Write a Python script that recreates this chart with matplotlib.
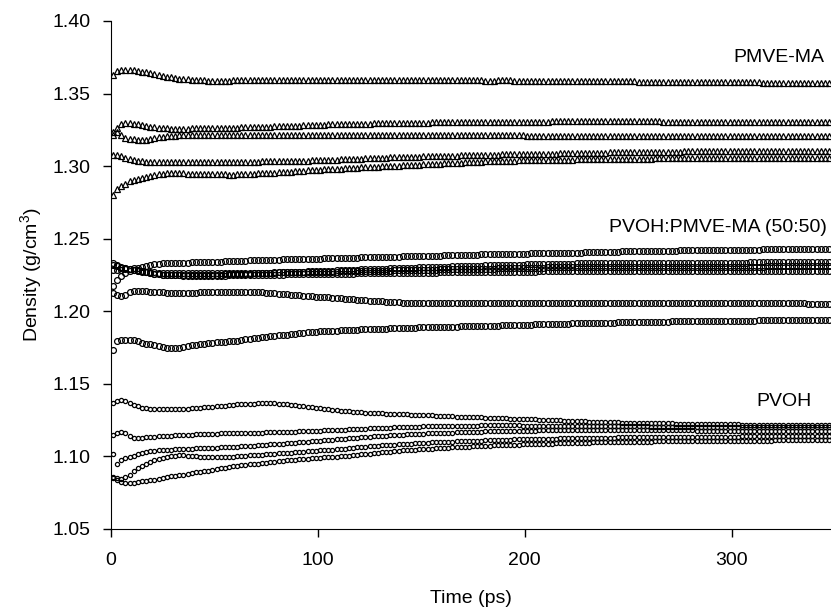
import matplotlib
matplotlib.use("Agg")
import matplotlib.pyplot as plt
import numpy as np

plt.rcParams["font.family"] = ["Liberation Sans", "DejaVu Sans"]
plt.rcParams["mathtext.default"] = "regular"

# sampling grid of the MD trajectories (ps)
time_ps = np.arange(1, 348, 2)

# --- PMVE-MA (triangles) ---
pmvema_1 = [
    1.3630, 1.3655, 1.3660, 1.3662, 1.3662, 1.3660, 1.3657, 1.3652, 1.3646, 1.3640,
    1.3633, 1.3627, 1.3621, 1.3616, 1.3611, 1.3607, 1.3603, 1.3600, 1.3598, 1.3596,
    1.3594, 1.3593, 1.3591, 1.3590, 1.3590, 1.3589, 1.3589, 1.3590, 1.3590, 1.3591,
    1.3591, 1.3592, 1.3592, 1.3592, 1.3593, 1.3593, 1.3592, 1.3592, 1.3592, 1.3591,
    1.3591, 1.3591, 1.3591, 1.3592, 1.3592, 1.3593, 1.3593, 1.3593, 1.3592, 1.3592,
    1.3592, 1.3591, 1.3591, 1.3591, 1.3592, 1.3592, 1.3593, 1.3593, 1.3593, 1.3593,
    1.3593, 1.3592, 1.3592, 1.3592, 1.3591, 1.3591, 1.3591, 1.3592, 1.3592, 1.3592,
    1.3593, 1.3593, 1.3593, 1.3593, 1.3592, 1.3592, 1.3592, 1.3592, 1.3591, 1.3591,
    1.3591, 1.3591, 1.3592, 1.3592, 1.3592, 1.3592, 1.3592, 1.3591, 1.3591, 1.3591,
    1.3590, 1.3590, 1.3590, 1.3591, 1.3591, 1.3591, 1.3591, 1.3590, 1.3590, 1.3590,
    1.3589, 1.3589, 1.3589, 1.3589, 1.3589, 1.3588, 1.3588, 1.3588, 1.3588, 1.3588,
    1.3587, 1.3587, 1.3587, 1.3587, 1.3586, 1.3586, 1.3586, 1.3586, 1.3585, 1.3585,
    1.3585, 1.3585, 1.3585, 1.3584, 1.3584, 1.3584, 1.3584, 1.3583, 1.3583, 1.3583,
    1.3583, 1.3582, 1.3582, 1.3582, 1.3582, 1.3581, 1.3581, 1.3581, 1.3581, 1.3580,
    1.3580, 1.3580, 1.3580, 1.3579, 1.3579, 1.3579, 1.3579, 1.3578, 1.3578, 1.3578,
    1.3578, 1.3578, 1.3577, 1.3577, 1.3577, 1.3577, 1.3577, 1.3576, 1.3576, 1.3576,
    1.3576, 1.3576, 1.3576, 1.3575, 1.3575, 1.3575, 1.3575, 1.3575, 1.3575, 1.3574,
    1.3574, 1.3574, 1.3574, 1.3574,
]
pmvema_2 = [
    1.3235, 1.3265, 1.3292, 1.3298, 1.3297, 1.3293, 1.3288, 1.3283, 1.3278, 1.3273,
    1.3268, 1.3265, 1.3262, 1.3260, 1.3259, 1.3258, 1.3258, 1.3259, 1.3259, 1.3260,
    1.3260, 1.3261, 1.3261, 1.3262, 1.3262, 1.3263, 1.3263, 1.3264, 1.3265, 1.3265,
    1.3266, 1.3267, 1.3268, 1.3268, 1.3269, 1.3270, 1.3271, 1.3272, 1.3273, 1.3274,
    1.3275, 1.3276, 1.3277, 1.3278, 1.3279, 1.3280, 1.3281, 1.3282, 1.3283, 1.3284,
    1.3285, 1.3286, 1.3287, 1.3287, 1.3288, 1.3289, 1.3289, 1.3290, 1.3291, 1.3291,
    1.3292, 1.3293, 1.3293, 1.3294, 1.3295, 1.3295, 1.3296, 1.3296, 1.3297, 1.3298,
    1.3298, 1.3298, 1.3299, 1.3299, 1.3300, 1.3300, 1.3300, 1.3301, 1.3301, 1.3301,
    1.3302, 1.3302, 1.3302, 1.3302, 1.3303, 1.3303, 1.3303, 1.3304, 1.3304, 1.3304,
    1.3305, 1.3305, 1.3305, 1.3305, 1.3305, 1.3306, 1.3306, 1.3306, 1.3306, 1.3306,
    1.3307, 1.3307, 1.3307, 1.3307, 1.3307, 1.3307, 1.3308, 1.3308, 1.3308, 1.3308,
    1.3308, 1.3308, 1.3308, 1.3308, 1.3308, 1.3308, 1.3308, 1.3308, 1.3308, 1.3308,
    1.3308, 1.3308, 1.3308, 1.3308, 1.3308, 1.3308, 1.3308, 1.3308, 1.3308, 1.3308,
    1.3308, 1.3308, 1.3308, 1.3307, 1.3307, 1.3307, 1.3307, 1.3307, 1.3307, 1.3307,
    1.3307, 1.3307, 1.3307, 1.3307, 1.3307, 1.3306, 1.3306, 1.3306, 1.3306, 1.3306,
    1.3306, 1.3306, 1.3306, 1.3306, 1.3306, 1.3306, 1.3306, 1.3305, 1.3305, 1.3305,
    1.3305, 1.3305, 1.3305, 1.3305, 1.3305, 1.3305, 1.3305, 1.3305, 1.3305, 1.3305,
    1.3305, 1.3305, 1.3305, 1.3305,
]
pmvema_3 = [
    1.3217, 1.3233, 1.3212, 1.3196, 1.3190, 1.3186, 1.3183, 1.3179, 1.3178, 1.3185,
    1.3193, 1.3198, 1.3202, 1.3205, 1.3208, 1.3210, 1.3212, 1.3213, 1.3214, 1.3215,
    1.3216, 1.3217, 1.3218, 1.3218, 1.3218, 1.3218, 1.3218, 1.3217, 1.3217, 1.3217,
    1.3217, 1.3216, 1.3216, 1.3216, 1.3216, 1.3217, 1.3217, 1.3217, 1.3218, 1.3218,
    1.3218, 1.3218, 1.3217, 1.3217, 1.3217, 1.3216, 1.3216, 1.3216, 1.3216, 1.3216,
    1.3216, 1.3216, 1.3217, 1.3217, 1.3217, 1.3217, 1.3216, 1.3216, 1.3216, 1.3216,
    1.3215, 1.3215, 1.3215, 1.3215, 1.3215, 1.3216, 1.3216, 1.3216, 1.3216, 1.3215,
    1.3215, 1.3215, 1.3215, 1.3214, 1.3214, 1.3214, 1.3214, 1.3214, 1.3214, 1.3213,
    1.3213, 1.3213, 1.3213, 1.3213, 1.3213, 1.3213, 1.3212, 1.3212, 1.3212, 1.3212,
    1.3212, 1.3212, 1.3212, 1.3212, 1.3212, 1.3212, 1.3212, 1.3212, 1.3212, 1.3212,
    1.3211, 1.3211, 1.3211, 1.3211, 1.3211, 1.3211, 1.3211, 1.3210, 1.3210, 1.3210,
    1.3210, 1.3210, 1.3210, 1.3210, 1.3210, 1.3209, 1.3209, 1.3209, 1.3209, 1.3209,
    1.3209, 1.3209, 1.3209, 1.3208, 1.3208, 1.3208, 1.3208, 1.3208, 1.3208, 1.3208,
    1.3208, 1.3208, 1.3207, 1.3207, 1.3207, 1.3207, 1.3207, 1.3207, 1.3207, 1.3207,
    1.3207, 1.3207, 1.3206, 1.3206, 1.3206, 1.3206, 1.3206, 1.3206, 1.3206, 1.3206,
    1.3206, 1.3206, 1.3206, 1.3206, 1.3205, 1.3205, 1.3205, 1.3205, 1.3205, 1.3205,
    1.3205, 1.3205, 1.3205, 1.3205, 1.3205, 1.3205, 1.3205, 1.3205, 1.3205, 1.3205,
    1.3205, 1.3205, 1.3205, 1.3205,
]
pmvema_4 = [
    1.3079, 1.3075, 1.3068, 1.3058, 1.3048, 1.3040, 1.3037, 1.3033, 1.3031, 1.3030,
    1.3030, 1.3029, 1.3029, 1.3029, 1.3029, 1.3029, 1.3029, 1.3029, 1.3029, 1.3029,
    1.3029, 1.3030, 1.3030, 1.3030, 1.3030, 1.3030, 1.3030, 1.3030, 1.3030, 1.3030,
    1.3031, 1.3031, 1.3031, 1.3031, 1.3031, 1.3031, 1.3032, 1.3032, 1.3032, 1.3032,
    1.3032, 1.3033, 1.3034, 1.3035, 1.3036, 1.3036, 1.3037, 1.3038, 1.3039, 1.3040,
    1.3041, 1.3042, 1.3043, 1.3044, 1.3045, 1.3047, 1.3048, 1.3049, 1.3050, 1.3051,
    1.3052, 1.3053, 1.3054, 1.3055, 1.3057, 1.3058, 1.3059, 1.3060, 1.3061, 1.3062,
    1.3063, 1.3064, 1.3065, 1.3065, 1.3066, 1.3067, 1.3068, 1.3068, 1.3069, 1.3070,
    1.3071, 1.3071, 1.3072, 1.3073, 1.3074, 1.3074, 1.3075, 1.3076, 1.3077, 1.3077,
    1.3078, 1.3079, 1.3080, 1.3080, 1.3081, 1.3081, 1.3082, 1.3082, 1.3083, 1.3083,
    1.3084, 1.3084, 1.3085, 1.3085, 1.3086, 1.3086, 1.3087, 1.3087, 1.3088, 1.3088,
    1.3089, 1.3089, 1.3090, 1.3090, 1.3091, 1.3091, 1.3092, 1.3092, 1.3093, 1.3093,
    1.3094, 1.3094, 1.3094, 1.3095, 1.3095, 1.3096, 1.3096, 1.3097, 1.3097, 1.3097,
    1.3098, 1.3098, 1.3099, 1.3099, 1.3099, 1.3100, 1.3100, 1.3100, 1.3101, 1.3101,
    1.3101, 1.3102, 1.3102, 1.3102, 1.3102, 1.3103, 1.3103, 1.3103, 1.3103, 1.3103,
    1.3104, 1.3104, 1.3104, 1.3104, 1.3104, 1.3105, 1.3105, 1.3105, 1.3105, 1.3105,
    1.3105, 1.3106, 1.3106, 1.3106, 1.3106, 1.3106, 1.3106, 1.3106, 1.3107, 1.3107,
    1.3107, 1.3107, 1.3107, 1.3107,
]
pmvema_5 = [
    1.2803, 1.2840, 1.2862, 1.2880, 1.2895, 1.2907, 1.2914, 1.2920, 1.2925, 1.2930,
    1.2938, 1.2945, 1.2949, 1.2953, 1.2953, 1.2952, 1.2951, 1.2950, 1.2949, 1.2948,
    1.2947, 1.2946, 1.2945, 1.2945, 1.2944, 1.2944, 1.2943, 1.2943, 1.2942, 1.2942,
    1.2944, 1.2945, 1.2946, 1.2948, 1.2949, 1.2950, 1.2952, 1.2953, 1.2955, 1.2956,
    1.2958, 1.2959, 1.2961, 1.2962, 1.2964, 1.2966, 1.2968, 1.2970, 1.2972, 1.2974,
    1.2976, 1.2977, 1.2979, 1.2980, 1.2982, 1.2983, 1.2985, 1.2986, 1.2988, 1.2989,
    1.2991, 1.2992, 1.2994, 1.2995, 1.2997, 1.2998, 1.3000, 1.3001, 1.3003, 1.3004,
    1.3006, 1.3007, 1.3008, 1.3010, 1.3011, 1.3012, 1.3014, 1.3015, 1.3016, 1.3018,
    1.3019, 1.3020, 1.3022, 1.3023, 1.3024, 1.3026, 1.3027, 1.3028, 1.3030, 1.3031,
    1.3032, 1.3034, 1.3035, 1.3036, 1.3036, 1.3037, 1.3038, 1.3038, 1.3039, 1.3039,
    1.3040, 1.3040, 1.3041, 1.3041, 1.3042, 1.3042, 1.3043, 1.3043, 1.3044, 1.3044,
    1.3045, 1.3045, 1.3046, 1.3046, 1.3047, 1.3047, 1.3048, 1.3048, 1.3049, 1.3049,
    1.3049, 1.3050, 1.3050, 1.3050, 1.3051, 1.3051, 1.3051, 1.3052, 1.3052, 1.3052,
    1.3052, 1.3053, 1.3053, 1.3053, 1.3053, 1.3054, 1.3054, 1.3054, 1.3054, 1.3054,
    1.3055, 1.3055, 1.3055, 1.3055, 1.3055, 1.3055, 1.3055, 1.3055, 1.3055, 1.3055,
    1.3056, 1.3056, 1.3056, 1.3056, 1.3056, 1.3056, 1.3056, 1.3057, 1.3057, 1.3057,
    1.3057, 1.3057, 1.3057, 1.3057, 1.3057, 1.3058, 1.3058, 1.3058, 1.3058, 1.3058,
    1.3058, 1.3058, 1.3058, 1.3058,
]

# --- PVOH:PMVE-MA (50:50) blend (large circles) ---
blend_1 = [
    1.2320, 1.2310, 1.2300, 1.2295, 1.2292, 1.2295, 1.2300, 1.2308, 1.2315, 1.2322,
    1.2326, 1.2328, 1.2330, 1.2331, 1.2332, 1.2333, 1.2334, 1.2335, 1.2336, 1.2337,
    1.2338, 1.2338, 1.2339, 1.2340, 1.2341, 1.2342, 1.2343, 1.2344, 1.2345, 1.2346,
    1.2347, 1.2348, 1.2349, 1.2350, 1.2350, 1.2351, 1.2352, 1.2353, 1.2354, 1.2355,
    1.2356, 1.2357, 1.2357, 1.2358, 1.2359, 1.2360, 1.2360, 1.2361, 1.2362, 1.2363,
    1.2363, 1.2364, 1.2365, 1.2366, 1.2366, 1.2367, 1.2368, 1.2368, 1.2369, 1.2370,
    1.2371, 1.2371, 1.2372, 1.2373, 1.2374, 1.2374, 1.2375, 1.2376, 1.2377, 1.2377,
    1.2378, 1.2379, 1.2379, 1.2380, 1.2381, 1.2382, 1.2382, 1.2383, 1.2384, 1.2384,
    1.2385, 1.2386, 1.2386, 1.2387, 1.2388, 1.2389, 1.2389, 1.2390, 1.2391, 1.2392,
    1.2392, 1.2393, 1.2394, 1.2395, 1.2395, 1.2396, 1.2396, 1.2397, 1.2397, 1.2398,
    1.2398, 1.2399, 1.2399, 1.2400, 1.2400, 1.2401, 1.2401, 1.2402, 1.2402, 1.2403,
    1.2403, 1.2404, 1.2405, 1.2405, 1.2406, 1.2407, 1.2407, 1.2408, 1.2409, 1.2409,
    1.2410, 1.2410, 1.2411, 1.2412, 1.2412, 1.2413, 1.2413, 1.2414, 1.2414, 1.2415,
    1.2415, 1.2416, 1.2416, 1.2417, 1.2417, 1.2418, 1.2418, 1.2419, 1.2419, 1.2419,
    1.2420, 1.2420, 1.2421, 1.2421, 1.2421, 1.2422, 1.2422, 1.2422, 1.2423, 1.2423,
    1.2423, 1.2424, 1.2424, 1.2424, 1.2425, 1.2425, 1.2425, 1.2426, 1.2426, 1.2427,
    1.2427, 1.2427, 1.2428, 1.2428, 1.2429, 1.2429, 1.2429, 1.2430, 1.2430, 1.2431,
    1.2431, 1.2431, 1.2432, 1.2432,
]
blend_2 = [
    1.2330, 1.2318, 1.2305, 1.2298, 1.2292, 1.2287, 1.2282, 1.2275, 1.2268, 1.2262,
    1.2258, 1.2255, 1.2253, 1.2251, 1.2250, 1.2249, 1.2248, 1.2248, 1.2248, 1.2249,
    1.2249, 1.2250, 1.2250, 1.2251, 1.2251, 1.2252, 1.2253, 1.2254, 1.2255, 1.2256,
    1.2257, 1.2258, 1.2259, 1.2260, 1.2261, 1.2262, 1.2263, 1.2265, 1.2266, 1.2267,
    1.2268, 1.2269, 1.2270, 1.2271, 1.2272, 1.2273, 1.2274, 1.2275, 1.2276, 1.2277,
    1.2278, 1.2279, 1.2280, 1.2281, 1.2282, 1.2283, 1.2284, 1.2285, 1.2286, 1.2287,
    1.2288, 1.2289, 1.2290, 1.2291, 1.2292, 1.2293, 1.2294, 1.2295, 1.2296, 1.2297,
    1.2298, 1.2299, 1.2300, 1.2301, 1.2302, 1.2303, 1.2303, 1.2304, 1.2305, 1.2306,
    1.2307, 1.2308, 1.2309, 1.2310, 1.2311, 1.2312, 1.2312, 1.2313, 1.2314, 1.2315,
    1.2316, 1.2317, 1.2318, 1.2318, 1.2319, 1.2320, 1.2320, 1.2321, 1.2322, 1.2322,
    1.2323, 1.2324, 1.2324, 1.2325, 1.2326, 1.2326, 1.2327, 1.2327, 1.2328, 1.2328,
    1.2329, 1.2329, 1.2330, 1.2330, 1.2330, 1.2331, 1.2331, 1.2331, 1.2332, 1.2332,
    1.2332, 1.2333, 1.2333, 1.2333, 1.2333, 1.2334, 1.2334, 1.2334, 1.2334, 1.2334,
    1.2334, 1.2334, 1.2335, 1.2335, 1.2335, 1.2335, 1.2335, 1.2335, 1.2335, 1.2335,
    1.2335, 1.2336, 1.2336, 1.2336, 1.2336, 1.2336, 1.2336, 1.2336, 1.2336, 1.2336,
    1.2336, 1.2336, 1.2336, 1.2336, 1.2337, 1.2337, 1.2337, 1.2337, 1.2337, 1.2337,
    1.2337, 1.2337, 1.2337, 1.2337, 1.2337, 1.2337, 1.2337, 1.2337, 1.2337, 1.2337,
    1.2337, 1.2337, 1.2337, 1.2337,
]
blend_3 = [
    1.2285, 1.2282, 1.2285, 1.2290, 1.2288, 1.2283, 1.2280, 1.2276, 1.2273, 1.2270,
    1.2268, 1.2267, 1.2265, 1.2264, 1.2264, 1.2263, 1.2263, 1.2262, 1.2262, 1.2262,
    1.2262, 1.2262, 1.2262, 1.2262, 1.2262, 1.2262, 1.2262, 1.2262, 1.2262, 1.2263,
    1.2263, 1.2264, 1.2264, 1.2265, 1.2265, 1.2266, 1.2266, 1.2267, 1.2267, 1.2268,
    1.2268, 1.2268, 1.2269, 1.2269, 1.2270, 1.2270, 1.2270, 1.2271, 1.2271, 1.2272,
    1.2272, 1.2273, 1.2273, 1.2274, 1.2274, 1.2275, 1.2275, 1.2276, 1.2276, 1.2277,
    1.2277, 1.2278, 1.2278, 1.2279, 1.2279, 1.2280, 1.2281, 1.2281, 1.2282, 1.2282,
    1.2283, 1.2284, 1.2284, 1.2285, 1.2285, 1.2286, 1.2286, 1.2287, 1.2287, 1.2288,
    1.2288, 1.2289, 1.2289, 1.2290, 1.2290, 1.2291, 1.2291, 1.2292, 1.2292, 1.2293,
    1.2293, 1.2294, 1.2294, 1.2295, 1.2296, 1.2296, 1.2297, 1.2298, 1.2298, 1.2299,
    1.2299, 1.2300, 1.2300, 1.2301, 1.2301, 1.2302, 1.2302, 1.2302, 1.2303, 1.2303,
    1.2303, 1.2303, 1.2304, 1.2304, 1.2304, 1.2304, 1.2304, 1.2305, 1.2305, 1.2305,
    1.2305, 1.2305, 1.2305, 1.2305, 1.2306, 1.2306, 1.2306, 1.2306, 1.2306, 1.2306,
    1.2306, 1.2306, 1.2306, 1.2306, 1.2307, 1.2307, 1.2307, 1.2307, 1.2307, 1.2307,
    1.2307, 1.2307, 1.2307, 1.2307, 1.2307, 1.2308, 1.2308, 1.2308, 1.2308, 1.2308,
    1.2308, 1.2308, 1.2308, 1.2308, 1.2308, 1.2308, 1.2308, 1.2308, 1.2309, 1.2309,
    1.2309, 1.2309, 1.2309, 1.2309, 1.2309, 1.2309, 1.2309, 1.2309, 1.2309, 1.2309,
    1.2309, 1.2309, 1.2309, 1.2309,
]
blend_4 = [
    1.2172, 1.2215, 1.2245, 1.2265, 1.2280, 1.2285, 1.2280, 1.2274, 1.2268, 1.2263,
    1.2258, 1.2255, 1.2252, 1.2250, 1.2249, 1.2248, 1.2247, 1.2246, 1.2246, 1.2246,
    1.2245, 1.2245, 1.2245, 1.2245, 1.2245, 1.2246, 1.2246, 1.2246, 1.2247, 1.2247,
    1.2248, 1.2248, 1.2249, 1.2249, 1.2250, 1.2250, 1.2251, 1.2251, 1.2252, 1.2252,
    1.2253, 1.2253, 1.2254, 1.2254, 1.2255, 1.2255, 1.2256, 1.2256, 1.2257, 1.2257,
    1.2258, 1.2258, 1.2258, 1.2259, 1.2259, 1.2259, 1.2260, 1.2260, 1.2260, 1.2261,
    1.2261, 1.2261, 1.2262, 1.2262, 1.2262, 1.2263, 1.2263, 1.2264, 1.2264, 1.2264,
    1.2265, 1.2265, 1.2265, 1.2266, 1.2266, 1.2266, 1.2267, 1.2267, 1.2267, 1.2268,
    1.2268, 1.2268, 1.2269, 1.2269, 1.2269, 1.2270, 1.2270, 1.2270, 1.2271, 1.2271,
    1.2271, 1.2272, 1.2272, 1.2272, 1.2272, 1.2273, 1.2273, 1.2273, 1.2273, 1.2274,
    1.2274, 1.2274, 1.2274, 1.2275, 1.2275, 1.2275, 1.2275, 1.2275, 1.2276, 1.2276,
    1.2276, 1.2276, 1.2276, 1.2276, 1.2277, 1.2277, 1.2277, 1.2277, 1.2277, 1.2277,
    1.2277, 1.2278, 1.2278, 1.2278, 1.2278, 1.2278, 1.2278, 1.2278, 1.2278, 1.2278,
    1.2278, 1.2279, 1.2279, 1.2279, 1.2279, 1.2279, 1.2279, 1.2279, 1.2279, 1.2279,
    1.2279, 1.2280, 1.2280, 1.2280, 1.2280, 1.2280, 1.2280, 1.2280, 1.2280, 1.2280,
    1.2280, 1.2280, 1.2280, 1.2280, 1.2281, 1.2281, 1.2281, 1.2281, 1.2281, 1.2281,
    1.2281, 1.2281, 1.2281, 1.2281, 1.2281, 1.2281, 1.2281, 1.2281, 1.2281, 1.2281,
    1.2281, 1.2281, 1.2281, 1.2281,
]
blend_5 = [
    1.2126, 1.2115, 1.2103, 1.2110, 1.2135, 1.2143, 1.2143, 1.2140, 1.2138, 1.2135,
    1.2133, 1.2132, 1.2130, 1.2129, 1.2129, 1.2128, 1.2128, 1.2128, 1.2128, 1.2129,
    1.2129, 1.2130, 1.2130, 1.2131, 1.2132, 1.2133, 1.2133, 1.2134, 1.2135, 1.2135,
    1.2135, 1.2135, 1.2135, 1.2134, 1.2133, 1.2132, 1.2130, 1.2129, 1.2127, 1.2125,
    1.2122, 1.2120, 1.2117, 1.2115, 1.2112, 1.2110, 1.2108, 1.2106, 1.2103, 1.2101,
    1.2099, 1.2097, 1.2095, 1.2093, 1.2091, 1.2089, 1.2086, 1.2084, 1.2082, 1.2080,
    1.2077, 1.2075, 1.2073, 1.2071, 1.2069, 1.2068, 1.2066, 1.2064, 1.2063, 1.2061,
    1.2060, 1.2059, 1.2059, 1.2058, 1.2058, 1.2057, 1.2057, 1.2056, 1.2056, 1.2055,
    1.2055, 1.2055, 1.2055, 1.2054, 1.2054, 1.2054, 1.2054, 1.2054, 1.2055, 1.2055,
    1.2055, 1.2055, 1.2056, 1.2056, 1.2056, 1.2056, 1.2056, 1.2056, 1.2056, 1.2056,
    1.2056, 1.2056, 1.2056, 1.2056, 1.2055, 1.2055, 1.2055, 1.2055, 1.2055, 1.2055,
    1.2055, 1.2055, 1.2054, 1.2054, 1.2054, 1.2054, 1.2054, 1.2054, 1.2054, 1.2054,
    1.2054, 1.2054, 1.2054, 1.2055, 1.2055, 1.2055, 1.2055, 1.2055, 1.2055, 1.2055,
    1.2056, 1.2056, 1.2056, 1.2056, 1.2056, 1.2056, 1.2056, 1.2056, 1.2056, 1.2056,
    1.2055, 1.2055, 1.2055, 1.2055, 1.2055, 1.2055, 1.2055, 1.2055, 1.2054, 1.2054,
    1.2054, 1.2054, 1.2054, 1.2054, 1.2054, 1.2054, 1.2054, 1.2054, 1.2054, 1.2054,
    1.2054, 1.2054, 1.2054, 1.2054, 1.2054, 1.2054, 1.2054, 1.2054, 1.2053, 1.2053,
    1.2053, 1.2053, 1.2053, 1.2053,
]
blend_6 = [
    1.1735, 1.1795, 1.1800, 1.1803, 1.1803, 1.1800, 1.1792, 1.1783, 1.1778, 1.1772,
    1.1766, 1.1760, 1.1755, 1.1750, 1.1747, 1.1748, 1.1750, 1.1755, 1.1760, 1.1765,
    1.1770, 1.1775, 1.1778, 1.1781, 1.1783, 1.1786, 1.1788, 1.1790, 1.1792, 1.1795,
    1.1798, 1.1802, 1.1806, 1.1810, 1.1813, 1.1817, 1.1821, 1.1825, 1.1828, 1.1831,
    1.1834, 1.1837, 1.1840, 1.1843, 1.1846, 1.1849, 1.1852, 1.1855, 1.1857, 1.1860,
    1.1861, 1.1863, 1.1864, 1.1865, 1.1867, 1.1868, 1.1869, 1.1871, 1.1872, 1.1873,
    1.1875, 1.1876, 1.1877, 1.1878, 1.1879, 1.1880, 1.1881, 1.1882, 1.1883, 1.1884,
    1.1885, 1.1886, 1.1887, 1.1888, 1.1889, 1.1890, 1.1890, 1.1891, 1.1892, 1.1893,
    1.1893, 1.1894, 1.1895, 1.1895, 1.1896, 1.1897, 1.1897, 1.1898, 1.1899, 1.1899,
    1.1900, 1.1901, 1.1902, 1.1902, 1.1903, 1.1904, 1.1905, 1.1905, 1.1906, 1.1907,
    1.1908, 1.1908, 1.1909, 1.1910, 1.1911, 1.1911, 1.1912, 1.1913, 1.1914, 1.1914,
    1.1915, 1.1916, 1.1916, 1.1917, 1.1918, 1.1918, 1.1919, 1.1920, 1.1920, 1.1921,
    1.1922, 1.1922, 1.1923, 1.1924, 1.1924, 1.1925, 1.1925, 1.1926, 1.1926, 1.1927,
    1.1927, 1.1928, 1.1928, 1.1929, 1.1929, 1.1930, 1.1930, 1.1931, 1.1931, 1.1932,
    1.1932, 1.1932, 1.1933, 1.1933, 1.1933, 1.1934, 1.1934, 1.1934, 1.1935, 1.1935,
    1.1935, 1.1935, 1.1936, 1.1936, 1.1936, 1.1936, 1.1937, 1.1937, 1.1937, 1.1937,
    1.1938, 1.1938, 1.1938, 1.1938, 1.1939, 1.1939, 1.1939, 1.1939, 1.1939, 1.1940,
    1.1940, 1.1940, 1.1940, 1.1940,
]

# --- PVOH (small circles) ---
pvoh_1 = [
    1.1367, 1.1382, 1.1390, 1.1385, 1.1370, 1.1355, 1.1345, 1.1335, 1.1332, 1.1330,
    1.1329, 1.1327, 1.1326, 1.1326, 1.1325, 1.1326, 1.1327, 1.1328, 1.1330, 1.1332,
    1.1334, 1.1336, 1.1338, 1.1340, 1.1342, 1.1345, 1.1347, 1.1350, 1.1352, 1.1355,
    1.1358, 1.1360, 1.1362, 1.1363, 1.1364, 1.1365, 1.1365, 1.1366, 1.1366, 1.1365,
    1.1364, 1.1362, 1.1359, 1.1356, 1.1353, 1.1350, 1.1346, 1.1342, 1.1338, 1.1335,
    1.1331, 1.1327, 1.1324, 1.1320, 1.1317, 1.1315, 1.1312, 1.1310, 1.1308, 1.1306,
    1.1304, 1.1302, 1.1300, 1.1299, 1.1298, 1.1297, 1.1295, 1.1294, 1.1293, 1.1291,
    1.1290, 1.1289, 1.1288, 1.1287, 1.1285, 1.1284, 1.1283, 1.1282, 1.1281, 1.1279,
    1.1278, 1.1277, 1.1276, 1.1275, 1.1274, 1.1273, 1.1272, 1.1271, 1.1270, 1.1269,
    1.1267, 1.1266, 1.1265, 1.1264, 1.1263, 1.1262, 1.1261, 1.1260, 1.1259, 1.1258,
    1.1257, 1.1256, 1.1255, 1.1254, 1.1253, 1.1252, 1.1251, 1.1250, 1.1248, 1.1247,
    1.1246, 1.1245, 1.1244, 1.1243, 1.1242, 1.1240, 1.1239, 1.1238, 1.1237, 1.1236,
    1.1235, 1.1235, 1.1234, 1.1233, 1.1232, 1.1232, 1.1231, 1.1231, 1.1230, 1.1230,
    1.1229, 1.1229, 1.1228, 1.1228, 1.1227, 1.1227, 1.1226, 1.1226, 1.1226, 1.1225,
    1.1225, 1.1224, 1.1224, 1.1223, 1.1223, 1.1222, 1.1222, 1.1221, 1.1221, 1.1220,
    1.1220, 1.1220, 1.1219, 1.1219, 1.1219, 1.1219, 1.1218, 1.1218, 1.1218, 1.1218,
    1.1218, 1.1217, 1.1217, 1.1217, 1.1217, 1.1216, 1.1216, 1.1216, 1.1216, 1.1215,
    1.1215, 1.1215, 1.1215, 1.1215,
]
pvoh_2 = [
    1.1148, 1.1162, 1.1165, 1.1160, 1.1140, 1.1128, 1.1127, 1.1129, 1.1132, 1.1135,
    1.1137, 1.1139, 1.1140, 1.1142, 1.1143, 1.1145, 1.1146, 1.1147, 1.1149, 1.1150,
    1.1152, 1.1154, 1.1155, 1.1156, 1.1157, 1.1157, 1.1158, 1.1158, 1.1159, 1.1159,
    1.1160, 1.1160, 1.1161, 1.1161, 1.1162, 1.1163, 1.1164, 1.1165, 1.1166, 1.1167,
    1.1167, 1.1168, 1.1169, 1.1170, 1.1171, 1.1172, 1.1173, 1.1174, 1.1175, 1.1176,
    1.1178, 1.1179, 1.1180, 1.1181, 1.1182, 1.1184, 1.1185, 1.1186, 1.1187, 1.1188,
    1.1190, 1.1191, 1.1193, 1.1194, 1.1196, 1.1197, 1.1198, 1.1199, 1.1201, 1.1202,
    1.1203, 1.1204, 1.1204, 1.1205, 1.1206, 1.1207, 1.1207, 1.1208, 1.1209, 1.1209,
    1.1210, 1.1210, 1.1211, 1.1211, 1.1212, 1.1212, 1.1213, 1.1213, 1.1213, 1.1214,
    1.1214, 1.1214, 1.1215, 1.1215, 1.1215, 1.1215, 1.1214, 1.1214, 1.1214, 1.1213,
    1.1213, 1.1213, 1.1212, 1.1212, 1.1212, 1.1211, 1.1211, 1.1211, 1.1211, 1.1210,
    1.1210, 1.1210, 1.1210, 1.1210, 1.1209, 1.1209, 1.1209, 1.1209, 1.1209, 1.1208,
    1.1208, 1.1208, 1.1208, 1.1208, 1.1208, 1.1207, 1.1207, 1.1207, 1.1207, 1.1207,
    1.1206, 1.1206, 1.1206, 1.1206, 1.1206, 1.1205, 1.1205, 1.1205, 1.1205, 1.1204,
    1.1204, 1.1204, 1.1204, 1.1204, 1.1203, 1.1203, 1.1203, 1.1203, 1.1203, 1.1203,
    1.1203, 1.1202, 1.1202, 1.1202, 1.1202, 1.1202, 1.1202, 1.1201, 1.1201, 1.1201,
    1.1201, 1.1201, 1.1201, 1.1201, 1.1200, 1.1200, 1.1200, 1.1200, 1.1200, 1.1200,
    1.1200, 1.1200, 1.1200, 1.1200,
]
pvoh_3 = [
    1.1015, 1.0950, 1.0975, 1.0988, 1.0995, 1.1005, 1.1020, 1.1026, 1.1032, 1.1036,
    1.1040, 1.1042, 1.1044, 1.1046, 1.1047, 1.1049, 1.1050, 1.1052, 1.1053, 1.1054,
    1.1055, 1.1057, 1.1058, 1.1059, 1.1060, 1.1061, 1.1062, 1.1064, 1.1065, 1.1066,
    1.1068, 1.1070, 1.1071, 1.1073, 1.1075, 1.1077, 1.1079, 1.1081, 1.1083, 1.1085,
    1.1087, 1.1089, 1.1091, 1.1093, 1.1095, 1.1097, 1.1099, 1.1101, 1.1104, 1.1106,
    1.1108, 1.1111, 1.1113, 1.1116, 1.1118, 1.1121, 1.1123, 1.1126, 1.1128, 1.1130,
    1.1132, 1.1134, 1.1136, 1.1138, 1.1140, 1.1142, 1.1143, 1.1145, 1.1147, 1.1149,
    1.1150, 1.1152, 1.1153, 1.1154, 1.1155, 1.1156, 1.1158, 1.1159, 1.1160, 1.1161,
    1.1162, 1.1163, 1.1164, 1.1165, 1.1166, 1.1167, 1.1168, 1.1169, 1.1170, 1.1171,
    1.1172, 1.1173, 1.1174, 1.1175, 1.1175, 1.1176, 1.1176, 1.1177, 1.1177, 1.1177,
    1.1178, 1.1178, 1.1178, 1.1179, 1.1179, 1.1179, 1.1179, 1.1180, 1.1180, 1.1180,
    1.1180, 1.1180, 1.1180, 1.1180, 1.1180, 1.1180, 1.1180, 1.1180, 1.1180, 1.1180,
    1.1180, 1.1180, 1.1180, 1.1180, 1.1180, 1.1180, 1.1180, 1.1180, 1.1180, 1.1180,
    1.1180, 1.1180, 1.1180, 1.1179, 1.1179, 1.1179, 1.1179, 1.1179, 1.1179, 1.1179,
    1.1179, 1.1178, 1.1178, 1.1178, 1.1178, 1.1178, 1.1178, 1.1178, 1.1178, 1.1178,
    1.1178, 1.1177, 1.1177, 1.1177, 1.1177, 1.1177, 1.1177, 1.1176, 1.1176, 1.1176,
    1.1176, 1.1176, 1.1176, 1.1176, 1.1176, 1.1175, 1.1175, 1.1175, 1.1175, 1.1175,
    1.1175, 1.1175, 1.1175, 1.1175,
]
pvoh_4 = [
    1.0860, 1.0848, 1.0843, 1.0855, 1.0875, 1.0900, 1.0918, 1.0935, 1.0950, 1.0965,
    1.0974, 1.0982, 1.0989, 1.0995, 1.1000, 1.1005, 1.1007, 1.1008, 1.1006, 1.1003,
    1.1001, 1.0999, 1.0997, 1.0997, 1.0996, 1.0996, 1.0997, 1.0997, 1.0998, 1.0999,
    1.1002, 1.1004, 1.1005, 1.1007, 1.1009, 1.1011, 1.1013, 1.1015, 1.1017, 1.1019,
    1.1021, 1.1023, 1.1025, 1.1027, 1.1029, 1.1031, 1.1033, 1.1035, 1.1037, 1.1039,
    1.1041, 1.1043, 1.1045, 1.1047, 1.1049, 1.1051, 1.1054, 1.1057, 1.1059, 1.1062,
    1.1065, 1.1067, 1.1070, 1.1072, 1.1074, 1.1076, 1.1078, 1.1080, 1.1082, 1.1085,
    1.1086, 1.1088, 1.1089, 1.1091, 1.1092, 1.1093, 1.1095, 1.1096, 1.1097, 1.1099,
    1.1100, 1.1101, 1.1102, 1.1103, 1.1104, 1.1105, 1.1106, 1.1107, 1.1108, 1.1109,
    1.1111, 1.1112, 1.1113, 1.1114, 1.1115, 1.1115, 1.1116, 1.1117, 1.1117, 1.1118,
    1.1119, 1.1119, 1.1120, 1.1121, 1.1121, 1.1122, 1.1123, 1.1123, 1.1124, 1.1124,
    1.1125, 1.1125, 1.1126, 1.1126, 1.1127, 1.1127, 1.1128, 1.1128, 1.1129, 1.1129,
    1.1130, 1.1130, 1.1131, 1.1131, 1.1132, 1.1132, 1.1132, 1.1133, 1.1133, 1.1133,
    1.1134, 1.1134, 1.1134, 1.1134, 1.1135, 1.1135, 1.1135, 1.1135, 1.1136, 1.1136,
    1.1136, 1.1136, 1.1136, 1.1136, 1.1137, 1.1137, 1.1137, 1.1137, 1.1137, 1.1137,
    1.1137, 1.1137, 1.1138, 1.1138, 1.1138, 1.1138, 1.1138, 1.1138, 1.1138, 1.1139,
    1.1139, 1.1139, 1.1139, 1.1139, 1.1139, 1.1139, 1.1139, 1.1140, 1.1140, 1.1140,
    1.1140, 1.1140, 1.1140, 1.1140,
]
pvoh_5 = [
    1.0853, 1.0835, 1.0826, 1.0820, 1.0815, 1.0818, 1.0824, 1.0828, 1.0832, 1.0836,
    1.0840, 1.0845, 1.0850, 1.0856, 1.0862, 1.0866, 1.0871, 1.0875, 1.0880, 1.0885,
    1.0890, 1.0894, 1.0899, 1.0903, 1.0908, 1.0913, 1.0918, 1.0922, 1.0927, 1.0931,
    1.0934, 1.0938, 1.0941, 1.0945, 1.0948, 1.0951, 1.0954, 1.0957, 1.0960, 1.0963,
    1.0966, 1.0969, 1.0972, 1.0974, 1.0977, 1.0980, 1.0982, 1.0984, 1.0986, 1.0989,
    1.0991, 1.0993, 1.0995, 1.0997, 1.0999, 1.1001, 1.1003, 1.1005, 1.1008, 1.1011,
    1.1014, 1.1017, 1.1020, 1.1023, 1.1025, 1.1028, 1.1031, 1.1033, 1.1036, 1.1039,
    1.1041, 1.1043, 1.1044, 1.1046, 1.1048, 1.1050, 1.1052, 1.1053, 1.1055, 1.1057,
    1.1059, 1.1060, 1.1062, 1.1063, 1.1065, 1.1066, 1.1068, 1.1069, 1.1071, 1.1072,
    1.1074, 1.1075, 1.1077, 1.1078, 1.1079, 1.1080, 1.1081, 1.1081, 1.1082, 1.1083,
    1.1084, 1.1085, 1.1086, 1.1086, 1.1087, 1.1088, 1.1089, 1.1090, 1.1090, 1.1091,
    1.1092, 1.1092, 1.1093, 1.1094, 1.1094, 1.1095, 1.1096, 1.1096, 1.1097, 1.1098,
    1.1098, 1.1099, 1.1099, 1.1100, 1.1100, 1.1101, 1.1101, 1.1101, 1.1102, 1.1102,
    1.1102, 1.1103, 1.1103, 1.1103, 1.1104, 1.1104, 1.1104, 1.1105, 1.1105, 1.1105,
    1.1105, 1.1106, 1.1106, 1.1106, 1.1106, 1.1107, 1.1107, 1.1107, 1.1107, 1.1107,
    1.1108, 1.1108, 1.1108, 1.1108, 1.1108, 1.1109, 1.1109, 1.1109, 1.1109, 1.1109,
    1.1110, 1.1110, 1.1110, 1.1110, 1.1110, 1.1111, 1.1111, 1.1111, 1.1111, 1.1111,
    1.1112, 1.1112, 1.1112, 1.1112,
]

group_labels = ["PMVE-MA", "PVOH:PMVE-MA (50:50)", "PVOH"]
label_pos = [(323.0, 1.3748), (293.5, 1.2576), (325.5, 1.1376)]

groups = [
    ([pmvema_1, pmvema_2, pmvema_3, pmvema_4, pmvema_5], "^", 3.9),
    ([blend_1, blend_2, blend_3, blend_4, blend_5, blend_6], "o", 4.2),
    ([pvoh_1, pvoh_2, pvoh_3, pvoh_4, pvoh_5], "o", 3.0),
]

fig = plt.figure(figsize=(8.31, 6.13), dpi=100)
ax = fig.add_axes([111 / 831, 1 - 529 / 613, 720 / 831, 508 / 613])

for series_list, marker, ms in groups:
    for dens in series_list:
        ax.plot(time_ps, dens, linestyle="none", marker=marker, markersize=ms,
                markerfacecolor="none", markeredgecolor="black",
                markeredgewidth=0.9)

for text, (tx, ty) in zip(group_labels, label_pos):
    ax.text(tx, ty, text, ha="center", va="center", fontsize=14)

ax.set_xlim(0, 348)
ax.set_ylim(1.05, 1.40)
ax.set_xticks([0, 100, 200, 300])
ax.set_yticks(np.arange(1.05, 1.401, 0.05))
ax.yaxis.set_major_formatter(matplotlib.ticker.FormatStrFormatter("%.2f"))
ax.spines["top"].set_visible(False)
ax.spines["right"].set_visible(False)
ax.tick_params(direction="out", length=6, width=1, labelsize=14)
ax.tick_params(axis="x", pad=10.5)
ax.tick_params(axis="y", pad=9)
ax.set_xlabel("Time (ps)", fontsize=14, labelpad=15)
ax.set_ylabel("Density (g/cm$^{3}$)", fontsize=14, labelpad=6)

fig.savefig("out.png", dpi=100)
